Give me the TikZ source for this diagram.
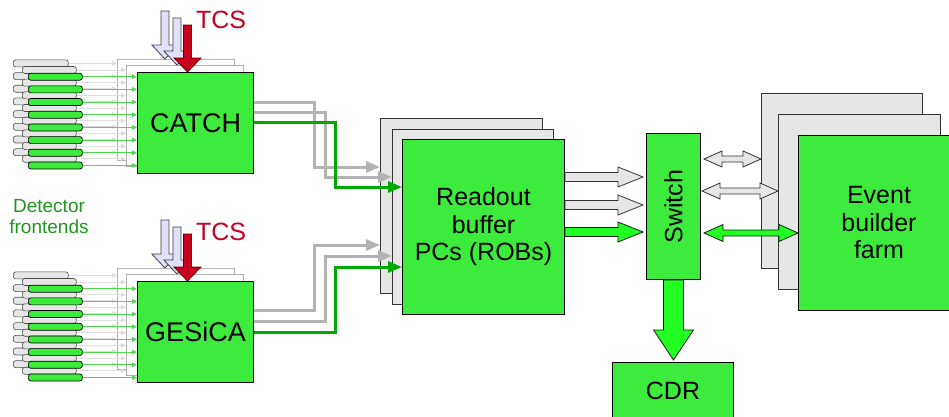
\documentclass[tikz,border=0pt]{standalone}
\usepackage{fontspec}
\setmainfont{Liberation Sans}
\usetikzlibrary{arrows.meta,calc}

\definecolor{boxgreen}{RGB}{61,235,61}
\definecolor{arrowgreen}{RGB}{34,255,34}
\definecolor{linkgreen}{RGB}{0,170,0}
\definecolor{fegreen}{RGB}{80,215,80}
\definecolor{linkgray}{RGB}{179,179,179}
\definecolor{panelgray}{RGB}{230,230,230}
\definecolor{ghostgray}{RGB}{222,222,222}
\definecolor{lavender}{RGB}{224,224,248}
\definecolor{tcsred}{RGB}{200,0,30}
\definecolor{labelgreen}{RGB}{30,150,30}

\newcommand{\bigfont}{\fontsize{25}{27.5}\selectfont}
\newcommand{\modfont}{\fontsize{27}{29}\selectfont}
\newcommand{\labelfont}{\fontsize{19}{21}\selectfont}

% block arrows: style, from, to, shaft half, head half, head length
\newcommand{\rblock}[6]{%
  \draw[#1] let \p1=#2, \p2=#3 in
    (\x1,\y1+#4) -- (\x2-#6,\y1+#4) -- (\x2-#6,\y1+#5) -- (\x2,\y1)
    -- (\x2-#6,\y1-#5) -- (\x2-#6,\y1-#4) -- (\x1,\y1-#4) -- cycle;}
\newcommand{\lrblock}[6]{%
  \draw[#1] let \p1=#2, \p2=#3 in
    (\x1,\y1) -- (\x1+#6,\y1+#5) -- (\x1+#6,\y1+#4) -- (\x2-#6,\y1+#4)
    -- (\x2-#6,\y1+#5) -- (\x2,\y1) -- (\x2-#6,\y1-#5) -- (\x2-#6,\y1-#4)
    -- (\x1+#6,\y1-#4) -- (\x1+#6,\y1-#5) -- cycle;}
\newcommand{\dblock}[6]{%
  \draw[#1] let \p1=#2, \p2=#3 in
    (\x1+#4,\y1) -- (\x1+#4,\y2+#6) -- (\x1+#5,\y2+#6) -- (\x1,\y2)
    -- (\x1-#5,\y2+#6) -- (\x1-#4,\y2+#6) -- (\x1-#4,\y1) -- cycle;}

\pgfdeclarelayer{back}
\pgfdeclarelayer{mid}
\pgfsetlayers{back,mid,main}

\tikzset{
  box/.style={draw, line width=1pt, fill=boxgreen, inner sep=0pt,
    anchor=north west, font=\bigfont, align=center},
  panel/.style={draw=black!80, line width=1pt, fill=panelgray, inner sep=0pt,
    anchor=north west},
  ghost/.style={draw=black!30, line width=0.8pt, fill=white, inner sep=0pt,
    anchor=north west, minimum width=117pt, minimum height=101pt},
  cardgray/.style={draw=black!70, line width=0.6pt, fill=panelgray,
    rounded corners=2.5pt, minimum height=7pt, inner sep=0pt, anchor=west},
  cardgreen/.style={draw, line width=0.7pt, fill=boxgreen, minimum width=54pt,
    rounded corners=2.5pt, minimum height=7pt, inner sep=0pt, anchor=west},
  ghostline/.style={draw=ghostgray, line width=1pt, -{Triangle[length=5pt,width=4.5pt]}},
  frontline/.style={draw=fegreen, line width=1pt, -{Triangle[length=5pt,width=4.5pt]}},
  graylink/.style={draw=linkgray, line width=3pt, -{Triangle[length=14pt,width=11pt]}},
  greenlink/.style={draw=linkgreen, line width=3pt, -{Triangle[length=14pt,width=11pt]}},
  grayblock/.style={draw=black!80, line width=0.8pt, fill=panelgray},
  greenblock/.style={draw=black!90, line width=0.8pt, fill=arrowgreen},
  lavblock/.style={draw=black!75, line width=0.8pt, fill=lavender},
  redblock/.style={draw=red!40!black, line width=0.8pt, fill=tcsred}
}

\begin{document}
\begin{tikzpicture}[x=1pt,y=-1pt]
  \useasboundingbox (0,0) rectangle (949,416);
  \clip (0,0) rectangle (949,416);

  \foreach \m/\lbl/\dy/\fy in {catch/CATCH/0/0, gesica/GESiCA/209/212}{
    \begin{pgfonlayer}{back}
      \node[ghost] (\m b1) at (117,59+\dy) {};
      \node[ghost] (\m b2) at (126,65+\dy) {};
    \end{pgfonlayer}
    \node[box, font=\modfont, minimum width=116pt, minimum height=101pt] (\m) at (137,72+\dy) {\lbl};
    \foreach \k in {0,...,7}{
      \node[cardgray, minimum width=55pt] (\m A\k) at (13,63.4+12.68*\k+\fy) {};
      \begin{pgfonlayer}{mid}
        \draw[ghostline] (\m A\k.east) -- (\m A\k.east -| \m b1.west);
      \end{pgfonlayer}
    }
    \foreach \k in {0,...,7}{
      \node[cardgray, minimum width=54pt] (\m B\k) at (22,70+12.68*\k+\fy) {};
      \begin{pgfonlayer}{mid}
        \draw[ghostline] (\m B\k.east) -- (\m B\k.east -| \m b2.west);
      \end{pgfonlayer}
    }
    \foreach \k in {0,...,7}{
      \node[cardgreen] (\m C\k) at (28,76.7+12.68*\k+\fy) {};
      \draw[frontline] (\m C\k.east) -- (\m C\k.east -| \m.west);
    }
    \node[font=\bigfont, text=tcsred] (\m tcs) at (221,20+\fy) {TCS};
    \dblock{lavblock}{($(\m b1.north)+(-11,-48)$)}{($(\m b1.north)+(-11,0)$)}{4pt}{13pt}{14pt}
    \dblock{lavblock}{($(\m b2.north)+(-8,-47)$)}{($(\m b2.north)+(-8,0)$)}{4pt}{13pt}{14pt}
    \dblock{redblock}{($(\m.north)+(-8,-47)$)}{($(\m.north)+(-8,0)$)}{4pt}{13.5pt}{14pt}
  }

  \node[font=\labelfont, text=labelgreen, align=center] (felabel) at (49,217) {Detector\\frontends};

  \node[panel, minimum width=162pt, minimum height=175pt] (robA) at (380,118) {};
  \node[panel, minimum width=161pt, minimum height=175pt] (robB) at (392,129) {};
  \node[box, minimum width=162pt, minimum height=175pt] (rob) at (402,139) {Readout\\buffer\\PCs (ROBs)};

  \draw[graylink] ($(catch.north east)+(0,30)$) -- ++(60,0) |- ($(robA.north west)+(0,49)$);
  \draw[graylink] ($(catch.north east)+(0,40)$) -- ++(71,0) |- ($(robB.north west)+(0,48)$);
  \draw[greenlink] ($(catch.north east)+(0,50)$) -- ++(81,0) |- ($(rob.north west)+(0,48)$);
  \draw[graylink] ($(gesica.north east)+(0,29)$) -- ++(60,0) |- ($(robA.north west)+(0,127)$);
  \draw[graylink] ($(gesica.north east)+(0,40)$) -- ++(71,0) |- ($(robB.north west)+(0,127)$);
  \draw[greenlink] ($(gesica.north east)+(0,51)$) -- ++(81,0) |- ($(rob.north west)+(0,128)$);

  \node[box, minimum width=54pt, minimum height=146pt] (switch) at (646,133) {};
  \node[font=\bigfont, rotate=90] (switchtext) at (switch.center) {Switch};

  \node[panel, minimum width=161pt, minimum height=175pt] (evbA) at (761,93) {};
  \node[panel, minimum width=162pt, minimum height=175pt] (evbB) at (778,114) {};
  \node[box, minimum width=161pt, minimum height=175pt] (evb) at (798,135) {Event\\builder\\farm};

  \node[box, minimum width=121pt, minimum height=56pt] (cdr) at (612,362) {CDR};

  \rblock{grayblock}{($(rob.north east)+(0,38)$)}{($(switch.west)+(-3,0)$)}{4.5pt}{10pt}{25pt}
  \rblock{grayblock}{($(rob.north east)+(0,66)$)}{($(switch.west)+(-3,0)$)}{4.5pt}{10pt}{25pt}
  \rblock{greenblock}{($(rob.north east)+(0,93)$)}{($(switch.west)+(-3,0)$)}{4.5pt}{10pt}{25pt}

  \lrblock{grayblock}{($(switch.north east)+(3,26)$)}{(evbA.west)}{3pt}{8pt}{18pt}
  \lrblock{grayblock}{($(switch.north east)+(1,58)$)}{(evbB.west)}{3pt}{8pt}{18pt}
  \lrblock{greenblock}{($(switch.north east)+(3,100)$)}{(evb.west)}{3pt}{8.5pt}{19pt}

  \dblock{greenblock}{(switch.south)}{($(cdr.north)+(0,-2)$)}{10pt}{20pt}{30pt}
\end{tikzpicture}
\end{document}
